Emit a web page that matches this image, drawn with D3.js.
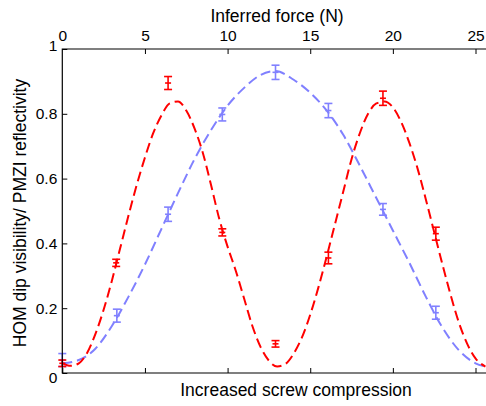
<!DOCTYPE html>
<html><head><meta charset="utf-8">
<script src="https://cdn.jsdelivr.net/npm/d3@7"></script>
<style>body{margin:0;background:#fff}svg{display:block}text{font-family:"Liberation Sans",Arial,Helvetica,sans-serif;fill:#000}</style>
</head><body>
<svg id="c" width="486" height="406"></svg>
<script>
// Measured points (force N, value, error)
const redX = [0, 3.26, 6.4, 9.68, 12.9, 16.1, 19.4, 22.6];
const redY = [0.03, 0.34, 0.895, 0.434, 0.09, 0.355, 0.848, 0.43];
const redE = [0.01, 0.011, 0.02, 0.011, 0.01, 0.018, 0.022, 0.02];
const blueX = [0, 3.3, 6.4, 9.68, 12.9, 16.1, 19.4, 22.6];
const blueY = [0.04, 0.177, 0.49, 0.798, 0.928, 0.81, 0.505, 0.186];
const blueE = [0.02, 0.02, 0.022, 0.02, 0.022, 0.022, 0.018, 0.02];
// Fitted curves
const redFitX = [0,0.5,1,1.5,2,2.5,3,3.5,4,4.5,5,5.5,6,6.5,7,7.5,8,8.5,9,9.5,10,10.5,11,11.5,12,12.5,13,13.5,14,14.5,15,15.5,16,16.5,17,17.5,18,18.5,19,19.5,20,20.5,21,21.5,22,22.5,23,23.5,24,24.5,25,25.6];
const redFitY = [0.03,0.022,0.03,0.062,0.12,0.195,0.285,0.385,0.485,0.58,0.665,0.74,0.795,0.832,0.838,0.81,0.755,0.68,0.58,0.475,0.39,0.315,0.23,0.145,0.08,0.038,0.02,0.028,0.06,0.11,0.18,0.265,0.36,0.46,0.56,0.66,0.74,0.80,0.832,0.838,0.82,0.775,0.71,0.63,0.535,0.435,0.335,0.24,0.155,0.09,0.045,0.02];
const blueFitX = [0,1,2,3,4,5,6,7,8,9,10,11,12,12.9,14,15,16,17,18,19,20,21,22,23,24,25,25.6];
const blueFitY = [0.03,0.04,0.075,0.145,0.235,0.335,0.445,0.555,0.66,0.75,0.825,0.88,0.92,0.932,0.905,0.865,0.81,0.735,0.64,0.54,0.44,0.34,0.235,0.14,0.07,0.03,0.02];
const xTicks = [0,5,10,15,20,25];
const yTicks = [0,0.2,0.4,0.6,0.8,1];
const yTickLabels = ["0","0.2","0.4","0.6","0.8","1"];

const svg = d3.select("#c");
const x = d3.scaleLinear().domain([0,25]).range([62.3,475.5]);
const y = d3.scaleLinear().domain([0,1]).range([373,49]);
const RED = "#ff0000", BLUE = "#8080ff";

// fitted curves
const line = d3.line().x(d=>x(d[0])).y(d=>y(d[1])).curve(d3.curveMonotoneX);
svg.append("clipPath").attr("id","pc").append("rect").attr("x",62).attr("y",40).attr("width",424).attr("height",340);
const g = svg.append("g").attr("clip-path","url(#pc)");
g.append("path").datum(blueFitX.map((v,i)=>[v,blueFitY[i]])).attr("d",line)
  .attr("fill","none").attr("stroke",BLUE).attr("stroke-width",2).attr("stroke-dasharray","10,5");
g.append("path").datum(redFitX.map((v,i)=>[v,redFitY[i]])).attr("d",line)
  .attr("fill","none").attr("stroke",RED).attr("stroke-width",2).attr("stroke-dasharray","10,5");

function errbars(xs, ys, es, col){
  const gg = svg.append("g").attr("stroke",col).attr("stroke-width",1.6);
  xs.forEach((xv,i)=>{
    const cx = x(xv), y0 = y(ys[i]-es[i]), y1 = y(ys[i]+es[i]);
    gg.append("line").attr("x1",cx).attr("x2",cx).attr("y1",y0).attr("y2",y1);
    gg.append("line").attr("x1",cx-4).attr("x2",cx+4).attr("y1",y0).attr("y2",y0);
    gg.append("line").attr("x1",cx-4).attr("x2",cx+4).attr("y1",y1).attr("y2",y1);
    gg.append("line").attr("x1",cx-3).attr("x2",cx+3).attr("y1",y(ys[i])).attr("y2",y(ys[i]));
  });
}
errbars(blueX, blueY, blueE, BLUE);
errbars(redX, redY, redE, RED);

// axes
const topAx = d3.axisTop(x).tickValues(xTicks).tickSize(-5).tickPadding(8).tickFormat(d3.format("d"));
const tA = svg.append("g").attr("transform","translate(0,49)").call(topAx);
tA.select(".domain").remove();
const botAx = d3.axisBottom(x).tickValues(xTicks).tickSize(-5).tickFormat("");
const bA = svg.append("g").attr("transform","translate(0,373)").call(botAx);
bA.select(".domain").remove();
const leftAx = d3.axisLeft(y).tickValues(yTicks).tickSize(-5).tickPadding(5).tickFormat((d,i)=>yTickLabels[i]);
const lA = svg.append("g").attr("transform","translate(62.3,0)").call(leftAx);
lA.select(".domain").remove();
[tA,bA,lA].forEach(a=>{a.selectAll("text").style("font-size","15.5px").style("font-family","'Liberation Sans',Arial,sans-serif").attr("fill","#000");a.selectAll("line").attr("stroke","#000");});
lA.selectAll(".tick").filter(d=>d===0).select("text").attr("dy","0.62em");
lA.selectAll(".tick").filter(d=>d===1).select("text").attr("dy","0.1em");
tA.selectAll(".tick").filter(d=>d===0).select("line").remove();

svg.append("path").attr("d",`M486,49H62.3V373H486`).attr("fill","none").attr("stroke","#000").attr("stroke-width",1.2);

svg.append("text").attr("x",277).attr("y",22).attr("text-anchor","middle").style("font-size","17.5px").text("Inferred force (N)");
svg.append("text").attr("x",296).attr("y",396).attr("text-anchor","middle").style("font-size","17.5px").text("Increased screw compression");
svg.append("text").attr("transform","translate(26,213) rotate(-90)").attr("text-anchor","middle").style("font-size","17.5px").text("HOM dip visibility/ PMZI reflectivity");
</script>
</body></html>
